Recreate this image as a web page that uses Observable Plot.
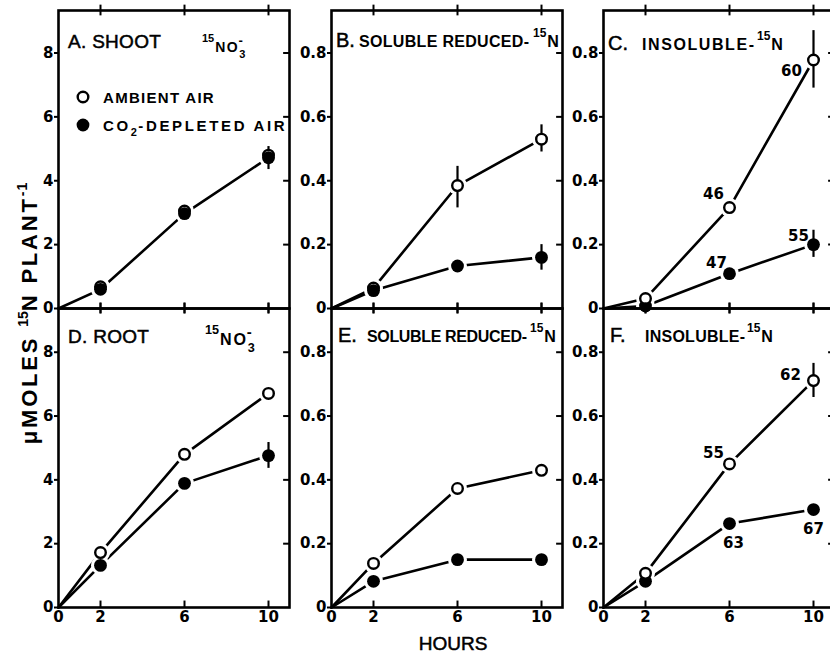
<!DOCTYPE html>
<html><head><meta charset="utf-8">
<script src="https://cdn.jsdelivr.net/npm/d3@7"></script>
<script src="https://cdn.jsdelivr.net/npm/@observablehq/plot@0.6"></script>
<style>
body{margin:0;background:#fff;}
#fig{position:relative;width:830px;height:654px;overflow:hidden;background:#fff;}
#fig > svg{position:absolute;}
</style></head><body><div id="fig"></div>
<script>
// ---------- data ----------
const hours = [0, 2, 6, 10];
const xTicks = [2, 6, 10];
const xTickLabels = [0, 2, 6, 10];
const nitrateTicks = [0, 2, 4, 6, 8];
const reducedTicks = [0, 0.2, 0.4, 0.6, 0.8];
const seriesNames = ["AMBIENT AIR", "DEPLETED AIR"];
const panelLetters = ["A.", "B.", "C.", "D.", "E.", "F."];
const panelNames = ["SHOOT", "SOLUBLE REDUCED-", "INSOLUBLE-", "ROOT", "SOLUBLE REDUCED-", "INSOLUBLE-"];

// A. shoot nitrate
const shootNitrateAmbient  = [0, 0.68, 3.05, 4.80];
const shootNitrateDepleted = [0, 0.60, 2.97, 4.72];
const shootNitrateErrors = [{hour: 10, low: 4.35, high: 5.07}];
// B. shoot soluble reduced
const shootSolubleAmbient  = [0, 0.064, 0.385, 0.530];
const shootSolubleDepleted = [0, 0.056, 0.133, 0.160];
const shootSolubleErrors = [{hour: 6, low: 0.315, high: 0.445}, {hour: 10, low: 0.49, high: 0.575}, {hour: 10, low: 0.12, high: 0.20}];
// C. shoot insoluble
const shootInsolubleAmbient  = [0, 0.031, 0.316, 0.778];
const shootInsolubleDepleted = [0, 0.008, 0.109, 0.200];
const shootInsolubleErrors = [{hour: 10, low: 0.69, high: 0.87}, {hour: 10, low: 0.16, high: 0.245}];
const shootInsolubleLabels = [
  {hour: 6, series: "ambient", text: "46"}, {hour: 10, series: "ambient", text: "60"},
  {hour: 6, series: "depleted", text: "47"}, {hour: 10, series: "depleted", text: "55"}];
// D. root nitrate
const rootNitrateAmbient  = [0, 1.72, 4.80, 6.71];
const rootNitrateDepleted = [0, 1.32, 3.89, 4.76];
const rootNitrateErrors = [{hour: 10, low: 4.36, high: 5.17}];
// E. root soluble reduced
const rootSolubleAmbient  = [0, 0.138, 0.373, 0.430];
const rootSolubleDepleted = [0, 0.082, 0.150, 0.150];
const rootSolubleErrors = [];
// F. root insoluble
const rootInsolubleAmbient  = [0, 0.107, 0.450, 0.711];
const rootInsolubleDepleted = [0, 0.082, 0.263, 0.307];
const rootInsolubleErrors = [{hour: 10, low: 0.658, high: 0.765}];
const rootInsolubleLabels = [
  {hour: 6, series: "ambient", text: "55"}, {hour: 10, series: "ambient", text: "62"},
  {hour: 6, series: "depleted", text: "63"}, {hour: 10, series: "depleted", text: "67"}];

// ---------- layout ----------
const colLeft = [58, 331, 603];
const FL = 55, FT = 10, FW = 231;
const labelOffsets = {
  "C ambient 6": [-16, -13], "C ambient 10": [-22, 11], "C depleted 6": [-13, -10], "C depleted 10": [-15, -8],
  "F ambient 6": [-16, -11], "F ambient 10": [-23, -5], "F depleted 6": [4, 20], "F depleted 10": [0, 20]
};

const panels = [
  {key: "A", i: 0, col: 0, row: 0, ymax: 9.33, yticks: nitrateTicks, amb: shootNitrateAmbient, dep: shootNitrateDepleted, err: shootNitrateErrors, labels: [], openOnTop: false, lineSeries: ["depleted"]},
  {key: "B", i: 1, col: 1, row: 0, ymax: 0.933, yticks: reducedTicks, amb: shootSolubleAmbient, dep: shootSolubleDepleted, err: shootSolubleErrors, labels: [], openOnTop: false, lineSeries: ["ambient", "depleted"]},
  {key: "C", i: 2, col: 2, row: 0, ymax: 0.933, yticks: reducedTicks, amb: shootInsolubleAmbient, dep: shootInsolubleDepleted, err: shootInsolubleErrors, labels: shootInsolubleLabels, openOnTop: true, lineSeries: ["ambient", "depleted"]},
  {key: "D", i: 3, col: 0, row: 1, ymax: 9.37, yticks: nitrateTicks, amb: rootNitrateAmbient, dep: rootNitrateDepleted, err: rootNitrateErrors, labels: [], openOnTop: true, lineSeries: ["ambient", "depleted"]},
  {key: "E", i: 4, col: 1, row: 1, ymax: 0.937, yticks: reducedTicks, amb: rootSolubleAmbient, dep: rootSolubleDepleted, err: rootSolubleErrors, labels: [], openOnTop: true, lineSeries: ["ambient", "depleted"]},
  {key: "F", i: 5, col: 2, row: 1, ymax: 0.937, yticks: reducedTicks, amb: rootInsolubleAmbient, dep: rootInsolubleDepleted, err: rootInsolubleErrors, labels: rootInsolubleLabels, openOnTop: true, lineSeries: ["ambient", "depleted"]}
];

const SANS = "Liberation Sans, Arial, sans-serif";
const DJ = "DejaVu Sans, sans-serif";

function rich(sel, x, y, parts, attrs = {}) {
  const t = sel.append("text").attr("x", x).attr("y", y).attr("fill", "black").attr("text-anchor", "start");
  for (const [k, v] of Object.entries(attrs)) t.attr(k, v);
  let prev = 0;
  for (const p of parts) {
    const b = p.b || 0;
    const ts = t.append("tspan").attr("dy", b - prev).attr("font-size", p.s)
      .attr("font-weight", p.w || "bold").attr("font-family", p.f || SANS);
    if (p.dx) ts.attr("dx", p.dx);
    if (p.ls != null) ts.attr("letter-spacing", p.ls);
    ts.text(p.t);
    prev = b;
  }
  return t;
}

function chem(svg, x, y, k) {
  rich(svg, x, y, [
    {t: "15", s: 11 * k, b: -10 * k},
    {t: "NO", s: 14 * k, b: 0, ls: 1.5 * k, dx: 1},
    {t: "3", s: 11 * k, b: 6 * k},
    {t: "-", s: 13 * k, b: -7 * k, dx: -7 * k}
  ]);
}

const fig = document.getElementById("fig");

for (const p of panels) {
  const fh = p.row === 0 ? 298 : 299;
  const mb = p.row === 0 ? 10 : 46;
  const d = p.ymax * 0.018;
  const rows = [];
  hours.forEach((h, k) => {
    rows.push({hour: h, series: "ambient", value: p.amb[k]});
    rows.push({hour: h, series: "depleted", value: p.dep[k]});
  });
  const pts = rows.filter(r => r.hour > 0);
  const openDot = Plot.dot(pts.filter(r => r.series === "ambient"), {x: "hour", y: "value", r: 5.3, fill: "white", stroke: "black", strokeWidth: 2.4});
  const filledDot = Plot.dot(pts.filter(r => r.series === "depleted"), {x: "hour", y: "value", r: 6.4, fill: "black"});
  const fmt = p.ymax > 2 ? (t => String(t)) : (t => t === 0 ? "0" : t.toFixed(1));
  const labelMarks = p.labels.map(l => {
    const row = rows.find(r => r.hour === l.hour && r.series === l.series);
    const [dx, dy] = labelOffsets[`${p.key} ${l.series} ${l.hour}`];
    return Plot.text([{...l, value: row.value}], {x: "hour", y: "value", text: "text", dx, dy, fontSize: 15, fontWeight: "bold", fontFamily: DJ, fill: "black"});
  });
  const marks = [
    Plot.line(rows.filter(r => p.lineSeries.includes(r.series)), {x: "hour", y: "value", z: "series", stroke: "black", strokeWidth: 2.6}),
    Plot.dot(pts, {x: "hour", y: "value", r: 9.5, fill: "white"}),
    Plot.frame({stroke: "black", strokeWidth: 2.6}),
    Plot.ruleX(p.err, {x: "hour", y1: "low", y2: "high", stroke: "black", strokeWidth: 2.2}),
    ...(p.openOnTop ? [filledDot, openDot] : [openDot, filledDot]),
    ...labelMarks,
    Plot.ruleX(xTicks, {x: t => t, y1: p.ymax - d, y2: p.ymax + d, stroke: "black", strokeWidth: 2}),
    Plot.ruleX(xTicks, {x: t => t, y1: p.row === 0 ? -d : 0, y2: p.row === 0 ? d : 1.2 * d, stroke: "black", strokeWidth: 2}),
    Plot.ruleY(p.yticks.filter(t => t > 0), {y: t => t, x1: 10.72, x2: 11, stroke: "black", strokeWidth: 2}),
    Plot.axisY(p.yticks, {tickSize: 4, tickPadding: 1, tickFormat: fmt, strokeWidth: 2, fontSize: 15, fontWeight: "bold", fontFamily: DJ, label: null})
  ];
  if (p.row === 1) marks.push(Plot.axisX(xTickLabels, {tickSize: 0, tickPadding: 4, fontSize: 15, fontWeight: "bold", fontFamily: DJ, label: null}));
  const svgNode = Plot.plot({
    width: FL + FW + 10,
    height: FT + fh + mb,
    marginLeft: FL, marginRight: 10, marginTop: FT, marginBottom: mb,
    style: {background: "transparent", overflow: "visible", color: "black", fontFamily: DJ},
    x: {domain: [0, 11], axis: null, label: null},
    y: {domain: [0, p.ymax], axis: null, label: null},
    marks
  });
  svgNode.style.left = (colLeft[p.col] - FL) + "px";
  svgNode.style.top = (p.row === 0 ? 0 : 298) + "px";
  fig.appendChild(svgNode);
  const svg = d3.select(svgNode);
  const L = FL, T = FT;
  if (p.key === "A" || p.key === "D") {
    rich(svg, L + 10, T + (p.key === "A" ? 38 : 35), [
      {t: panelLetters[p.i] + " " + panelNames[p.i], s: 19, w: "normal", ls: 0.3}
    ], {stroke: "black", "stroke-width": 0.5});
    if (p.key === "A") chem(svg, L + 144, T + 42, 1);
    else chem(svg, L + 147, T + 37, 1.15);
  } else {
    const base = {B: 37, C: 40, E: 34, F: 34}[p.key];
    const letterX = {B: 5, C: 5, E: 7, F: 7}[p.key];
    const nameX = {B: 28, C: 39, E: 36, F: 42}[p.key];
    const nameLen = {B: 170, C: 112, E: 160, F: 100}[p.key];
    const supX = {B: 202, C: 154, E: 199, F: 144}[p.key];
    rich(svg, L + letterX, T + base, [{t: panelLetters[p.i], s: 20, w: "normal"}], {stroke: "black", "stroke-width": 0.5});
    rich(svg, L + nameX, T + base, [{t: panelNames[p.i], s: 16}], {textLength: nameLen, lengthAdjust: "spacing"});
    rich(svg, L + supX, T + base, [{t: "15", s: 12, b: -10}, {t: "N", s: 16, b: 0, dx: 1}]);
  }
  if (p.key === "A") {
    const lx = L + 25;
    svg.append("circle").attr("cx", lx).attr("cy", T + 87).attr("r", 5.3).attr("fill", "white").attr("stroke", "black").attr("stroke-width", 2.4);
    svg.append("circle").attr("cx", lx).attr("cy", T + 115).attr("r", 6.4).attr("fill", "black");
    rich(svg, L + 45, T + 93, [{t: seriesNames[0], s: 15, ls: 1.3}], {textLength: 112, lengthAdjust: "spacing"});
    rich(svg, L + 45, T + 121, [
      {t: "CO", s: 15, ls: 1.3}, {t: "2", s: 11, b: 5}, {t: "-" + seriesNames[1], s: 15, b: 0, ls: 1.3}
    ], {textLength: 183, lengthAdjust: "spacing"});
  }
}

// overlay: axis titles
const over = d3.select(fig).append("svg").attr("width", 830).attr("height", 654).style("left", "0px").style("top", "0px");
rich(over, 0, 0, [
  {t: "μMOLES ", s: 22, ls: 2.8},
  {t: "15", s: 14, b: -9, ls: 0},
  {t: "N PLANT", s: 22, b: 0, ls: 2.8},
  {t: "-1", s: 14, b: -10, ls: 1}
], {transform: "translate(37,313) rotate(-90)", "text-anchor": "middle"});
rich(over, 453, 650, [{t: "HOURS", s: 19, w: "normal"}], {"text-anchor": "middle", stroke: "black", "stroke-width": 0.5});
</script></body></html>
